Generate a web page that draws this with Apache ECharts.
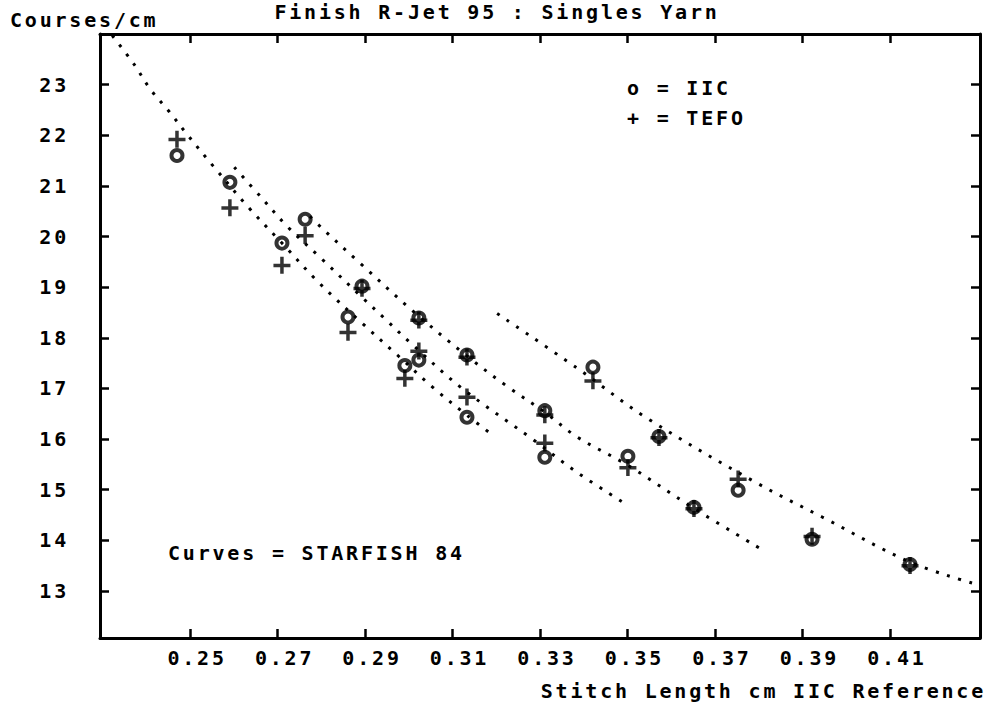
<!DOCTYPE html>
<html>
<head>
<meta charset="utf-8">
<script src="https://cdn.jsdelivr.net/npm/echarts@6/dist/echarts.min.js"></script>
<style>
  html, body { margin: 0; padding: 0; background: #fff; }
  #chart { width: 993px; height: 706px; }
  /* plotter-style lettering: wide character pitch */
  #chart text { letter-spacing: 2.8px; }
</style>
</head>
<body>
<div id="chart"></div>
<script>
// Measured samples: stitch length (cm) with courses/cm for the two instruments
const stitchLength = [0.247, 0.2591, 0.2710, 0.2763, 0.2893, 0.2861, 0.3023, 0.2991, 0.3023, 0.3133,
                      0.3133, 0.3311, 0.3311, 0.3421, 0.3501, 0.3572, 0.3652, 0.3753, 0.3922, 0.4146];
const iicCourses  = [21.60, 21.07, 19.87, 20.34, 19.02, 18.41, 18.39, 17.45, 17.56, 17.66,
                     16.43, 16.56, 15.64, 17.42, 15.66, 16.05, 14.65, 14.99, 14.02, 13.52];
const tefoCourses = [21.92, 20.57, 19.43, 20.02, 18.98, 18.11, 18.35, 17.20, 17.74, 17.62,
                     16.83, 16.48, 15.92, 17.15, 15.44, 16.03, 14.63, 15.21, 14.08, 13.50];

// STARFISH 84 predicted curves, [stitch length, courses/cm]
const starfishA = [[0.2322, 23.97], [0.2372, 23.40], [0.2409, 22.91], [0.2452, 22.47], [0.2491, 22.04],
                   [0.2553, 21.39], [0.2633, 20.58], [0.2710, 19.87], [0.2793, 19.10], [0.2893, 18.29],
                   [0.2975, 17.65], [0.3055, 17.02], [0.3133, 16.47], [0.3193, 16.07]];
const starfishB = [[0.2601, 21.37], [0.2665, 20.75], [0.2722, 20.20], [0.2797, 19.59], [0.2893, 18.80],
                   [0.2946, 18.37], [0.3005, 17.89], [0.3122, 17.00], [0.3284, 15.99], [0.3385, 15.34],
                   [0.3501, 14.69]];
const starfishC = [[0.2774, 20.40], [0.2802, 20.16], [0.2884, 19.51], [0.3005, 18.56], [0.3133, 17.64],
                   [0.3225, 17.04], [0.3311, 16.53], [0.3385, 16.04], [0.3501, 15.48], [0.3652, 14.63],
                   [0.3803, 13.84]];
const starfishD = [[0.3202, 18.48], [0.3385, 17.40], [0.3545, 16.41], [0.3796, 15.13], [0.3945, 14.46],
                   [0.4146, 13.57], [0.4290, 13.15]];

const xTickValues = [0.25, 0.27, 0.29, 0.31, 0.33, 0.35, 0.37, 0.39, 0.41];
const yTickValues = [13, 14, 15, 16, 17, 18, 19, 20, 21, 22, 23];

const titleText = 'Finish R-Jet 95 : Singles Yarn';
const yName = 'Courses/cm';
const xName = 'Stitch Length cm IIC Reference';
const legendIIC = 'o = IIC';
const legendTEFO = '+ = TEFO';
const curvesNote = 'Curves = STARFISH 84';

const FONT = "bold 20px 'DejaVu Sans Mono'";
const INK = '#000';
const PLUS = 'path://M0 7H17V10.5H0Z M6.75 0H10.25V17H6.75Z';

const chart = echarts.init(document.getElementById('chart'), null, { renderer: 'svg' });

const axisCommon = {
  axisLine: { show: true, lineStyle: { color: INK, width: 3 } },
  axisTick: { show: true, inside: true, length: 9, lineStyle: { color: INK, width: 2.5 } },
  splitLine: { show: false }
};

function xAxisDef(pos, labels) {
  return Object.assign({}, axisCommon, {
    type: 'value', position: pos, min: 0.2294, max: 0.4306,
    axisTick: Object.assign({}, axisCommon.axisTick, { customValues: xTickValues }),
    axisLabel: {
      show: labels, customValues: xTickValues, margin: 10,
      color: INK, fontFamily: 'DejaVu Sans Mono', fontWeight: 'bold', fontSize: 20,
      padding: [0, 0, 0, 14],
      formatter: v => v.toFixed(2)
    }
  });
}
function yAxisDef(pos, labels) {
  return Object.assign({}, axisCommon, {
    type: 'value', position: pos, min: 12.07, max: 24.0,
    axisTick: Object.assign({}, axisCommon.axisTick, { customValues: yTickValues }),
    axisLabel: {
      show: labels, customValues: yTickValues, margin: 31,
      color: INK, fontFamily: 'DejaVu Sans Mono', fontWeight: 'bold', fontSize: 20,
      formatter: v => String(v)
    }
  });
}

const dotted = { color: INK, width: 3, type: [3, 8.6], cap: 'butt' };
function curve(data) {
  return { type: 'line', data: data, smooth: 0.35, showSymbol: false, symbol: 'none',
           lineStyle: dotted, silent: true, z: 1 };
}

function text(x, y, str, align) {
  return { type: 'text', x: x, y: y, silent: true,
           style: { text: str, font: FONT, fill: INK, textAlign: align || 'left', textVerticalAlign: 'middle' } };
}

chart.setOption({
  backgroundColor: '#fff',
  animation: false,
  grid: { left: 100, right: 13, top: 34, bottom: 68, containLabel: false },
  xAxis: [xAxisDef('bottom', true), xAxisDef('top', false)],
  yAxis: [yAxisDef('left', true), yAxisDef('right', false)],
  series: [
    curve(starfishA), curve(starfishB), curve(starfishC), curve(starfishD),
    {
      name: 'IIC', type: 'scatter', z: 3,
      data: stitchLength.map((x, i) => [x, iicCourses[i]]),
      symbol: 'circle', symbolSize: 11,
      itemStyle: { color: 'rgba(0,0,0,0)', borderColor: INK, borderWidth: 4 }
    },
    {
      name: 'TEFO', type: 'scatter', z: 3,
      data: stitchLength.map((x, i) => [x, tefoCourses[i]]),
      symbol: PLUS, symbolSize: 17, symbolKeepAspect: true,
      itemStyle: { color: INK }
    }
  ],
  graphic: [
    text(497, 12, titleText, 'center'),
    text(10, 20, yName),
    text(986, 691, xName, 'right'),
    text(627, 88, legendIIC),
    text(627, 118, legendTEFO),
    text(168, 553, curvesNote)
  ]
});
</script>
</body>
</html>
